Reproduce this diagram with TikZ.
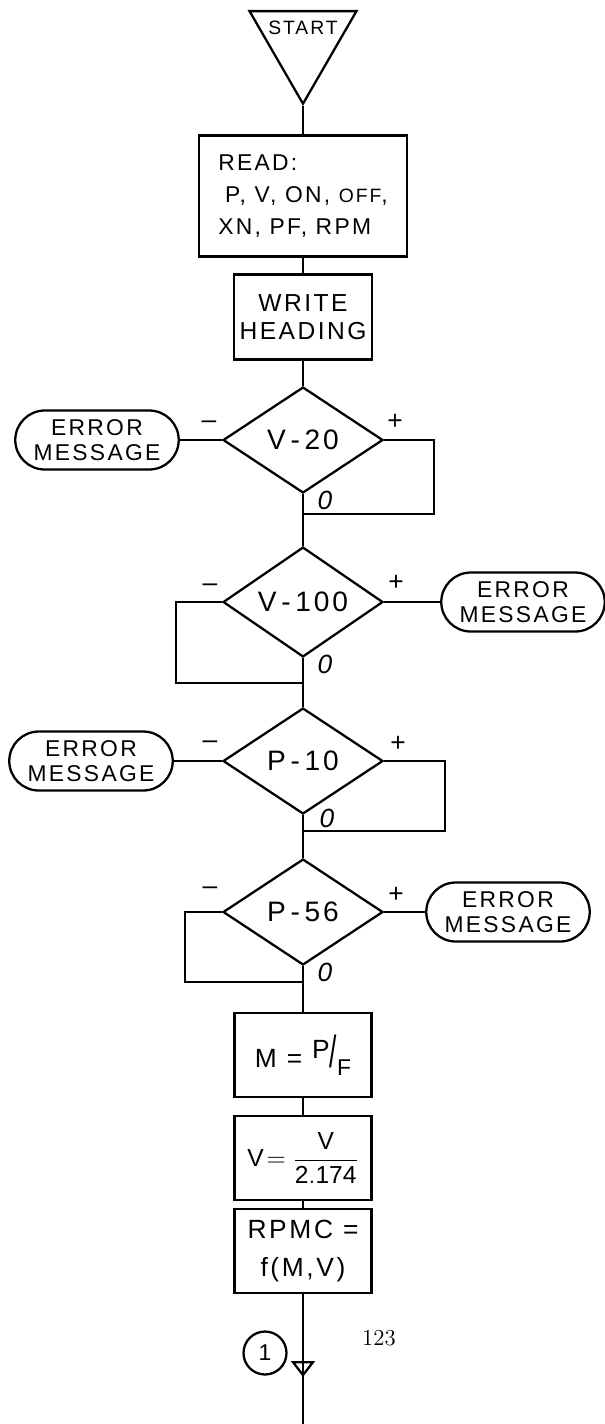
\documentclass[tikz,border=0pt]{standalone}
\usepackage{fontspec}
\setsansfont{Liberation Sans}[LetterSpace=10]
\usetikzlibrary{arrows.meta,shapes.geometric,shapes.misc,calc}

\begin{document}
\begin{tikzpicture}[x=0.02cm,y=-0.02cm,line width=1.3pt,every node/.style={font=\sffamily},
  box/.style={draw,rectangle,minimum width=2.74cm,minimum height=1.68cm,align=center,inner sep=2pt,font=\sffamily\fontsize{15}{22}\selectfont},
  test/.style={draw,diamond,minimum width=3.2cm,minimum height=2.12cm,inner sep=0pt,font=\sffamily\fontsize{16}{18}\selectfont},
  errbox/.style={draw,rounded rectangle,minimum width=3.34cm,minimum height=1.18cm,align=center,inner sep=1pt,font=\sffamily\fontsize{13}{14}\selectfont},
  sign/.style={inner sep=0pt,font=\sffamily\fontsize{15}{15}\selectfont}]
\useasboundingbox (0,0) rectangle (605,1424);
% start and input
\node[draw,regular polygon,regular polygon sides=3,shape border rotate=180,minimum size=2.47cm,inner sep=0pt] (start) at (303,42) {};
\node[font=\sffamily\fontsize{11}{11}\selectfont] (starttxt) at (303,28) {START};
\node[box,minimum width=4.16cm,minimum height=2.42cm,align=left,font=\sffamily\fontsize{13}{18}\selectfont] (read) at (303,196) {READ:\\\hspace{0.3em}P, V, ON, {\fontsize{11}{11}\selectfont OFF},\\XN, PF, RPM};
\node[box,minimum width=2.76cm,minimum height=1.7cm,font=\sffamily\fontsize{14}{16}\selectfont] (write) at (303,317) {WRITE\\HEADING};
% range tests
\node[test] (v20) at (303,440) {V\,-\,20};\node[test] (v100) at (303,602) {V\,-\,100};
\node[test] (p10) at (303,761) {P\,-\,10};\node[test] (p56) at (303,912) {P\,-\,56};
\node[errbox] (err1) at (97,440) {ERROR\\MESSAGE};\node[errbox] (err2) at (523,602) {ERROR\\MESSAGE};
\node[errbox] (err3) at (91,761) {ERROR\\MESSAGE};\node[errbox] (err4) at (508,912) {ERROR\\MESSAGE};
\coordinate (j1) at (303,514);\coordinate (j2) at (303,683);\coordinate (j3) at (303,831);\coordinate (j4) at (303,982);
\node[sign] (v20m) at ($(v20.west)+(-13,-15)$) {--};\node[sign] (v20p) at ($(v20.east)+(11,-18)$) {+};\node[sign] (v20z) at ($(v20.south)+(22,6)$) {\itshape 0};
\node[sign] (v100m) at ($(v100.west)+(-12,-14)$) {--};\node[sign] (v100p) at ($(v100.east)+(12,-19)$) {+};\node[sign] (v100z) at ($(v100.south)+(22,6)$) {\itshape 0};
\node[sign] (p10m) at ($(p10.west)+(-12,-16)$) {--};\node[sign] (p10p) at ($(p10.east)+(14,-17)$) {+};\node[sign] (p10z) at ($(p10.south)+(24,3)$) {\itshape 0};
\node[sign] (p56m) at ($(p56.west)+(-12,-21)$) {--};\node[sign] (p56p) at ($(p56.east)+(12,-17)$) {+};\node[sign] (p56z) at ($(p56.south)+(22,6)$) {\itshape 0};
% computation
\node[box] (m) at (303,1055) {M = \raisebox{0.6ex}{P}\scalebox{1}[1.7]{/}\raisebox{-0.6ex}{\fontsize{13}{13}\selectfont F}};
\node[box,font=\sffamily\fontsize{14}{18}\selectfont] (vv) at (303,1158) {$\mathsf{V}\!=\displaystyle\frac{\;\mathsf{V}\;}{\mathsf{2.174}}$};
\node[box] (rpmc) at (303,1251) {RPMC =\\f(M,V)};
\coordinate (tip) at (303,1377);\coordinate (bottom) at (303,1424);
\node[draw,circle,minimum size=0.86cm,inner sep=0pt,font=\sffamily\fontsize{13}{13}\selectfont] (conn) at (265,1353) {1};
\node[font=\rmfamily\fontsize{13}{13}\selectfont] (pagenum) at (379,1338) {123};
% flow lines
\draw (start.south)--(read.north);\draw (read.south)--(write.north);\draw (write.south)--(v20.north);
\draw (v20.west)--(err1.east);\draw (v20.east)--++(50,0)|-(j1);\draw (v20.south)--(v100.north);
\draw (v100.east)--(err2.west);\draw (v100.west)--++(-46,0)|-(j2);\draw (v100.south)--(p10.north);
\draw (p10.west)--(err3.east);\draw (p10.east)--++(61,0)|-(j3);\draw (p10.south)--(p56.north);
\draw (p56.east)--(err4.west);\draw (p56.west)--++(-37,0)|-(j4);\draw (p56.south)--(m.north);
\draw (m.south)--(vv.north);\draw (vv.south)--(rpmc.north);\draw (rpmc.south)--(bottom);
\draw[-{Triangle[open,width=0.48cm,length=0.32cm]}] (rpmc.south)--(tip);
\end{tikzpicture}
\end{document}
